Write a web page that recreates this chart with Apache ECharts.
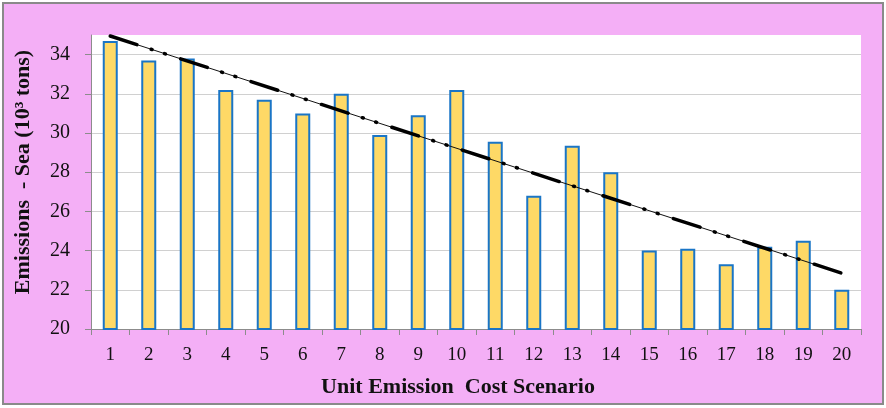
<!DOCTYPE html>
<html>
<head>
<meta charset="utf-8">
<script src="https://cdn.jsdelivr.net/npm/echarts@6/dist/echarts.min.js"></script>
<style>
  html, body { margin: 0; padding: 0; background: #fff; }
  #chart { width: 886px; height: 408px; }
</style>
</head>
<body>
<div id="chart"></div>
<script>
// scenario numbers on the x axis
const scenarios = ['1','2','3','4','5','6','7','8','9','10','11','12','13','14','15','16','17','18','19','20'];
// sea emissions per scenario (10^3 tons)
const seaEmissions = [34.7, 33.7, 33.8, 32.2, 31.7, 31.0, 32.0, 29.9, 30.9, 32.2, 29.55, 26.8, 29.35, 28.0, 24.0, 24.1, 23.3, 24.2, 24.5, 22.0];
// linear trend line end points [category index, value]
const trendStart = [0, 34.95];
const trendEnd = [19, 22.85];

const chart = echarts.init(document.getElementById('chart'));

const serif = '"Liberation Serif", "Times New Roman", serif';

const option = {
  animation: false,
  backgroundColor: '#ffffff',
  graphic: [
    {
      type: 'rect',
      z: -10,
      shape: { x: 3, y: 3, width: 880, height: 401 },
      style: { fill: '#f4aff6', stroke: '#8a8a8a', lineWidth: 2 }
    }
  ],
  grid: {
    left: 91,
    top: 35,
    right: 25,
    bottom: 79,
    show: true,
    backgroundColor: '#ffffff',
    borderWidth: 0
  },
  xAxis: {
    type: 'category',
    data: scenarios,
    name: 'Unit Emission  Cost Scenario',
    nameLocation: 'middle',
    nameGap: 47,
    nameTextStyle: {
      fontFamily: serif,
      fontWeight: 'bold',
      fontSize: 22,
      color: '#111',
      padding: [0, 36, 0, 0]
    },
    axisLine: { lineStyle: { color: '#8c8c8c', width: 1 } },
    axisTick: { show: true, length: 6, lineStyle: { color: '#8c8c8c' } },
    axisLabel: { fontFamily: serif, fontSize: 19, color: '#111', margin: 17 }
  },
  yAxis: {
    type: 'value',
    min: 20,
    max: 35,
    interval: 2,
    name: 'Emissions  - Sea (10\u00b3 tons)',
    nameLocation: 'middle',
    nameGap: 57,
    nameTextStyle: {
      fontFamily: serif,
      fontWeight: 'bold',
      fontSize: 22,
      color: '#111',
      padding: [0, 0, 0, 20]
    },
    axisLine: { show: true, lineStyle: { color: '#8c8c8c', width: 1 } },
    axisTick: { show: true, length: 6, lineStyle: { color: '#8c8c8c' } },
    axisLabel: { fontFamily: serif, fontSize: 20, color: '#111', margin: 21, showMaxLabel: false },
    splitLine: { lineStyle: { color: ['#d0d0d0','#d0d0d0','#d0d0d0','#d0d0d0','#d0d0d0','#d0d0d0','#d0d0d0','#d0d0d0','rgba(0,0,0,0)'], width: 1 } }
  },
  series: [
    {
      type: 'bar',
      data: seaEmissions,
      barWidth: 15,
      itemStyle: { color: '#fed966', borderColor: '#1a75c6', borderWidth: 2 }
    },
    {
      type: 'line',
      data: [trendStart, trendEnd],
      symbol: 'none',
      lineStyle: { color: '#111', width: 1 },
      z: 3
    },
    {
      type: 'line',
      data: [trendStart, trendEnd],
      symbol: 'none',
      lineStyle: { color: '#000', width: 3.5, type: [28, 15, 1, 13, 1, 16], cap: 'round' },
      z: 4
    }
  ]
};

chart.setOption(option);
</script>
</body>
</html>
